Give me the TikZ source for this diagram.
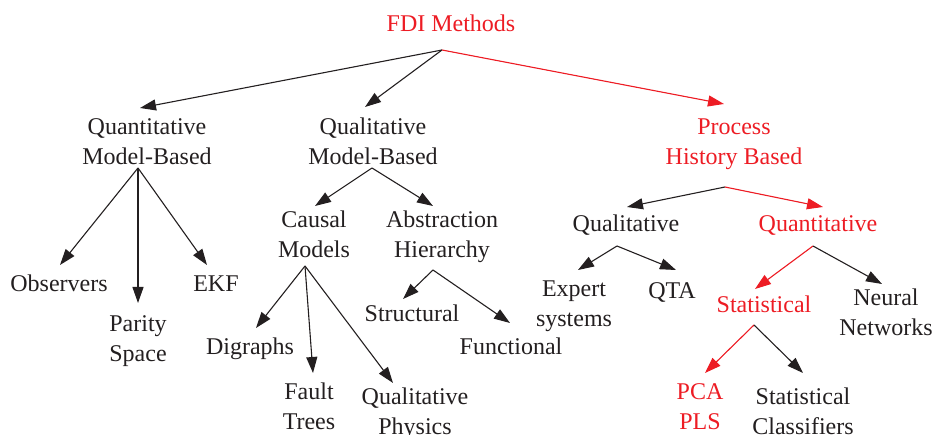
\documentclass[tikz,border=0pt]{standalone}
\usepackage{fontspec}
\setmainfont{Liberation Serif}
\usetikzlibrary{arrows.meta}
\definecolor{ink}{RGB}{35,31,32}
\definecolor{hl}{RGB}{237,28,36}
\tikzset{
  lbl/.style={anchor=base, align=center, inner sep=0pt, text=ink,
              font=\fontsize{24}{30}\selectfont},
  hllbl/.style={lbl, text=hl},
  % two-line labels sit on the baseline of their last line
  twoline/.style={yshift=-30pt},
  edge/.style={draw=ink, line width=1.1pt, -{Triangle[length=16pt,width=11pt]}},
  hledge/.style={edge, draw=hl, fill=hl},
}
\begin{document}
\begin{tikzpicture}[x=1pt,y=-1pt]
\useasboundingbox (0,0) rectangle (935,435);

% ---- labels (positions give the first line's baseline) ----
\node[hllbl]         (fdi)   at (451,32)  {FDI Methods};
\node[lbl,twoline]   (qmb)   at (147,135) {Quantitative\\Model-Based};
\node[lbl,twoline]   (qlmb)  at (373,135) {Qualitative\\Model-Based};
\node[hllbl,twoline] (phb)   at (734,135) {Process\\History Based};
\node[lbl]           (obs)   at (59,292)  {Observers};
\node[lbl,twoline]   (par)   at (138,332) {Parity\\Space};
\node[lbl]           (ekf)   at (216,292) {EKF};
\node[lbl,twoline]   (cau)   at (314,228) {Causal\\Models};
\node[lbl,twoline]   (abs)   at (442,228) {Abstraction\\Hierarchy};
\node[lbl]           (dig)   at (250,355) {Digraphs};
\node[lbl,twoline]   (ft)    at (309,400) {Fault\\Trees};
\node[lbl,twoline]   (qph)   at (415,405) {Qualitative\\Physics};
\node[lbl]           (str)   at (412,322) {Structural};
\node[lbl]           (fun)   at (511,355) {Functional};
\node[lbl]           (qual)  at (626,232) {Qualitative};
\node[hllbl]         (quan)  at (818,232) {Quantitative};
\node[lbl,twoline]   (exp)   at (574,297) {Expert\\systems};
\node[lbl]           (qta)   at (672,299) {QTA};
\node[hllbl]         (stat)  at (764,313) {Statistical};
\node[lbl,twoline]   (nn)    at (886,306) {Neural\\Networks};
\node[hllbl,twoline] (pca)   at (700,400) {PCA\\PLS};
\node[lbl,twoline]   (scl)   at (803,405) {Statistical\\Classifiers};

% ---- ports: where connectors leave and reach the labels ----
\coordinate (fdi-o)  at (442,50);
\coordinate (qmb-i)  at (140,108);
\coordinate (qlmb-i) at (365,107);
\coordinate (phb-i)  at (724,104);

\coordinate (qmb-o)  at (138,168);
\coordinate (obs-i)  at (60,265);
\coordinate (par-i)  at (138,303);
\coordinate (ekf-i)  at (207,265);

\coordinate (qlmb-o) at (372,168);
\coordinate (cau-i)  at (315,206);
\coordinate (abs-i)  at (433,206);

\coordinate (cau-o)  at (305,266);
\coordinate (dig-i)  at (256,328);
\coordinate (ft-i)   at (313,373);
\coordinate (qph-i)  at (393,383);

\coordinate (abs-o)  at (433,270);
\coordinate (str-i)  at (403,299);
\coordinate (fun-i)  at (510,323);

\coordinate (phb-o)  at (725,187);
\coordinate (qual-i) at (627,207);
\coordinate (quan-i) at (823,207);

\coordinate (qual-o) at (617,246);
\coordinate (exp-i)  at (578,270);
\coordinate (qta-i)  at (676,270);

\coordinate (quan-o) at (813,246);
\coordinate (stat-i) at (755,289);
\coordinate (nn-i)   at (882,284);

\coordinate (stat-o) at (754,325);
\coordinate (pca-i)  at (705,373);
\coordinate (scl-i)  at (803,373);

% ---- connectors ----
\draw[edge]   (fdi-o) -- (qmb-i);
\draw[edge]   (fdi-o) -- (qlmb-i);
\draw[hledge] (fdi-o) -- (phb-i);

\draw[edge] (qmb-o) -- (obs-i);
\draw[edge] (qmb-o) -- (par-i);
\draw[edge] (qmb-o) -- (ekf-i);

\draw[edge] (qlmb-o) -- (cau-i);
\draw[edge] (qlmb-o) -- (abs-i);

\draw[edge] (cau-o) -- (dig-i);
\draw[edge] (cau-o) -- (ft-i);
\draw[edge] (cau-o) -- (qph-i);

\draw[edge] (abs-o) -- (str-i);
\draw[edge] (abs-o) -- (fun-i);

\draw[edge]   (phb-o) -- (qual-i);
\draw[hledge] (phb-o) -- (quan-i);

\draw[edge] (qual-o) -- (exp-i);
\draw[edge] (qual-o) -- (qta-i);

\draw[hledge] (quan-o) -- (stat-i);
\draw[edge]   (quan-o) -- (nn-i);

\draw[hledge] (stat-o) -- (pca-i);
\draw[edge]   (stat-o) -- (scl-i);
\end{tikzpicture}
\end{document}
